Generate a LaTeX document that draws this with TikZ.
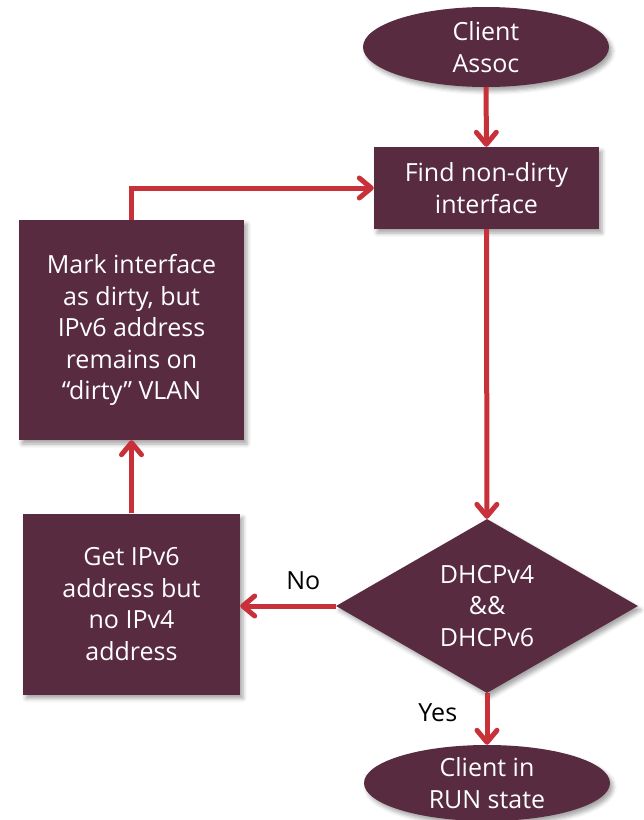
\documentclass[tikz,border=0pt]{standalone}
\usepackage{fontspec}
\setmainfont{Open Sans}
\usetikzlibrary{arrows.meta,shapes.geometric,shadows.blur}
\definecolor{plum}{HTML}{582B40}
\definecolor{flowred}{HTML}{C8303A}
\tikzset{
  shade/.style={blur shadow={shadow xshift=3pt,shadow yshift=-4pt,shadow blur radius=4pt,shadow opacity=35}},
  block/.style={rectangle,fill=plum,text=white,align=center,inner sep=0pt,shade,
    font=\fontsize{25}{31.5}\selectfont},
  terminal/.style={ellipse,fill=plum,text=white,align=center,inner sep=0pt,shade,
    font=\fontsize{25}{31.5}\selectfont},
  decision/.style={diamond,fill=plum,text=white,align=center,inner sep=0pt,shade,
    font=\fontsize{25}{31.5}\selectfont},
  flow/.style={draw=flowred,line width=5pt,
    -{Straight Barb[length=12pt,width=20pt,line width=5pt,round]}},
  tag/.style={text=black,font=\fontsize{25}{28}\selectfont}
}
\begin{document}
\begin{tikzpicture}[x=1pt,y=-1pt]
\useasboundingbox (0,0) rectangle (644,820);
\node[terminal,minimum width=246pt,minimum height=80pt] (assoc) at (486,47) {Client\\Assoc};
\node[block,minimum width=225pt,minimum height=82pt] (find) at (486.5,188) {Find non-dirty\\interface};
\node[block,minimum width=225pt,minimum height=220pt] (mark) at (131.5,330)
  {Mark interface\\as dirty, but\\IPv6 address\\remains on\\“dirty” VLAN};
\node[block,minimum width=217pt,minimum height=181pt] (get) at (131.5,604)
  {Get IPv6\\address but\\no IPv4\\address};
\node[decision,aspect=1.736,minimum width=302pt,minimum height=174pt] (dhcp) at (487,606)
  {DHCPv4\\\&\&\\DHCPv6};
\node[terminal,minimum width=246pt,minimum height=76pt] (run) at (487,783) {Client in\\RUN state};

\draw[flow] (assoc) -- (find);
\draw[flow] (find) -- (dhcp);
\draw[flow] (dhcp.west) -- node[tag,pos=0.34,anchor=south,yshift=10pt] (no) {No} (get.east |- dhcp.west);
\draw[flow] (get) -- (mark);
\draw[flow] (mark.north) |- (find.west);
\draw[flow] (dhcp.south) -- node[tag,pos=0.38,anchor=east,xshift=-24pt] (yes) {Yes} (run.north);
\end{tikzpicture}
\end{document}
